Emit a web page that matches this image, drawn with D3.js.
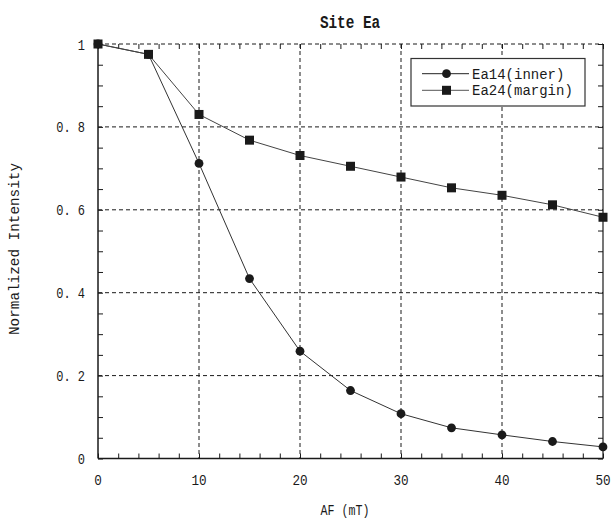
<!DOCTYPE html>
<html>
<head>
<meta charset="utf-8">
<script src="https://cdn.jsdelivr.net/npm/d3@7"></script>
<style>
  html, body { margin: 0; padding: 0; background: #fff; }
  svg { display: block; }
  text { font-family: "Liberation Mono", "DejaVu Sans Mono", monospace; fill: #1a1a1a; }
</style>
</head>
<body>
<svg id="chart" width="613" height="522"></svg>
<script>
// AF demagnetization steps (mT)
const afSteps = [0, 5, 10, 15, 20, 25, 30, 35, 40, 45, 50];
// Normalized remanence for each specimen
const ea14Inner = [1, 0.975, 0.712, 0.434, 0.259, 0.164, 0.108, 0.074, 0.057, 0.041, 0.028];
const ea24Margin = [1, 0.975, 0.830, 0.768, 0.731, 0.705, 0.679, 0.653, 0.635, 0.612, 0.582];
const seriesNames = ["Ea14(inner)", "Ea24(margin)"];
const xTicks = [0, 10, 20, 30, 40, 50];
const yTicks = [0, 0.2, 0.4, 0.6, 0.8, 1];
const yTickLabels = ["0", "0. 2", "0. 4", "0. 6", "0. 8", "1"];

const svg = d3.select("#chart");
const plotL = 98, plotR = 603, plotT = 44, plotB = 458.5;

const x = d3.scaleLinear().domain([0, 50]).range([plotL, plotR]);
const y = d3.scaleLinear().domain([0, 1]).range([plotB, plotT]);

const ink = "#1a1a1a";

// condensed monospace text: squeeze each string to a fixed advance per character
const fit = (sel, perChar) => sel
  .attr("textLength", function () { return this.textContent.length * perChar; })
  .attr("lengthAdjust", "spacingAndGlyphs");

// dashed grid
const grid = svg.append("g").attr("stroke", ink).attr("stroke-width", 1).attr("stroke-dasharray", "4,3");
grid.selectAll("line.gx").data(xTicks.filter(d => d > 0 && d < 50)).join("line")
  .attr("class", "gx")
  .attr("x1", d => x(d)).attr("x2", d => x(d)).attr("y1", plotT).attr("y2", plotB);
grid.selectAll("line.gy").data(yTicks.filter(d => d > 0)).join("line")
  .attr("class", "gy")
  .attr("x1", plotL).attr("x2", plotR).attr("y1", d => y(d)).attr("y2", d => y(d));

// inward ticks on all four sides
const xMinor = d3.range(0, 50.001, 2);
const yMinor = d3.range(0, 1.0001, 0.05);
const styleTicks = g => {
  g.select(".domain").remove();
  g.selectAll("line").attr("stroke", ink).attr("stroke-width", 1);
};

svg.append("g").attr("transform", `translate(0,${plotB})`)
  .call(d3.axisBottom(x).tickValues(xMinor).tickSize(-5).tickFormat(""))
  .call(styleTicks);
svg.append("g").attr("transform", `translate(0,${plotT})`)
  .call(d3.axisTop(x).tickValues(xMinor).tickSize(-5).tickFormat(""))
  .call(styleTicks);
svg.append("g").attr("transform", `translate(${plotL},0)`)
  .call(d3.axisLeft(y).tickValues(yMinor).tickSize(-5).tickFormat(""))
  .call(styleTicks);
svg.append("g").attr("transform", `translate(${plotR},0)`)
  .call(d3.axisRight(y).tickValues(yMinor).tickSize(-5).tickFormat(""))
  .call(styleTicks);

// frame: solid left, bottom, right
svg.append("line").attr("x1", plotL).attr("x2", plotL).attr("y1", plotT).attr("y2", plotB)
  .attr("stroke", ink).attr("stroke-width", 1.5);
svg.append("line").attr("x1", plotL).attr("x2", plotR).attr("y1", plotB).attr("y2", plotB)
  .attr("stroke", ink).attr("stroke-width", 1.5);
svg.append("line").attr("x1", plotR).attr("x2", plotR).attr("y1", plotT).attr("y2", plotB)
  .attr("stroke", ink).attr("stroke-width", 1.2);

// tick labels
svg.append("g").selectAll("text").data(xTicks).join("text")
  .attr("x", d => x(d)).attr("y", 484.5)
  .attr("text-anchor", "middle").attr("font-size", 15.5)
  .text(d => d)
  .call(fit, 7.6);
svg.append("g").selectAll("text").data(yTicks).join("text")
  .attr("x", 85).attr("y", d => y(d) + 5.5)
  .attr("text-anchor", "end").attr("font-size", 15.5)
  .text((d, i) => yTickLabels[i])
  .call(fit, 7.2);

// titles
svg.append("text").attr("x", 350).attr("y", 28).attr("text-anchor", "middle")
  .attr("font-size", 18).attr("font-weight", "bold").text("Site Ea")
  .call(fit, 8.6);
svg.append("text").attr("x", 345).attr("y", 515).attr("text-anchor", "middle")
  .attr("font-size", 15.5).text("AF (mT)")
  .call(fit, 7);
svg.append("text").attr("transform", "translate(19,249) rotate(-90)").attr("text-anchor", "middle")
  .attr("font-size", 14.5).text("Normalized Intensity")
  .call(fit, 8.6);

// series
const pts = arr => afSteps.map((d, i) => [d, arr[i]]);
const line = d3.line().x(d => x(d[0])).y(d => y(d[1]));

svg.append("path").datum(pts(ea14Inner)).attr("d", line)
  .attr("fill", "none").attr("stroke", "#333").attr("stroke-width", 1);
svg.append("g").selectAll("circle").data(pts(ea14Inner)).join("circle")
  .attr("cx", d => x(d[0])).attr("cy", d => y(d[1])).attr("r", 4.4).attr("fill", ink);

svg.append("path").datum(pts(ea24Margin)).attr("d", line)
  .attr("fill", "none").attr("stroke", "#444").attr("stroke-width", 1);
const sq = 9;
svg.append("g").selectAll("rect").data(pts(ea24Margin)).join("rect")
  .attr("x", d => x(d[0]) - sq / 2).attr("y", d => y(d[1]) - sq / 2)
  .attr("width", sq).attr("height", sq).attr("fill", ink);

// legend
const lg = svg.append("g");
lg.append("rect").attr("x", 411).attr("y", 58.5).attr("width", 174).attr("height", 47.5)
  .attr("fill", "#fff").attr("stroke", "#333").attr("stroke-width", 1.2);
const rows = [73.7, 90.3];
seriesNames.forEach((name, i) => {
  const ry = rows[i];
  lg.append("line").attr("x1", 422).attr("x2", 469).attr("y1", ry).attr("y2", ry)
    .attr("stroke", i === 0 ? "#222" : "#555").attr("stroke-width", 1);
  if (i === 0) {
    lg.append("circle").attr("cx", 446.5).attr("cy", ry).attr("r", 4.4).attr("fill", ink);
  } else {
    lg.append("rect").attr("x", 446.5 - sq / 2).attr("y", ry - sq / 2).attr("width", sq).attr("height", sq).attr("fill", ink);
  }
  lg.append("text").attr("x", 472).attr("y", ry + 5).attr("font-size", 14.5).text(name)
    .call(fit, 8.4);
});
</script>
</body>
</html>
